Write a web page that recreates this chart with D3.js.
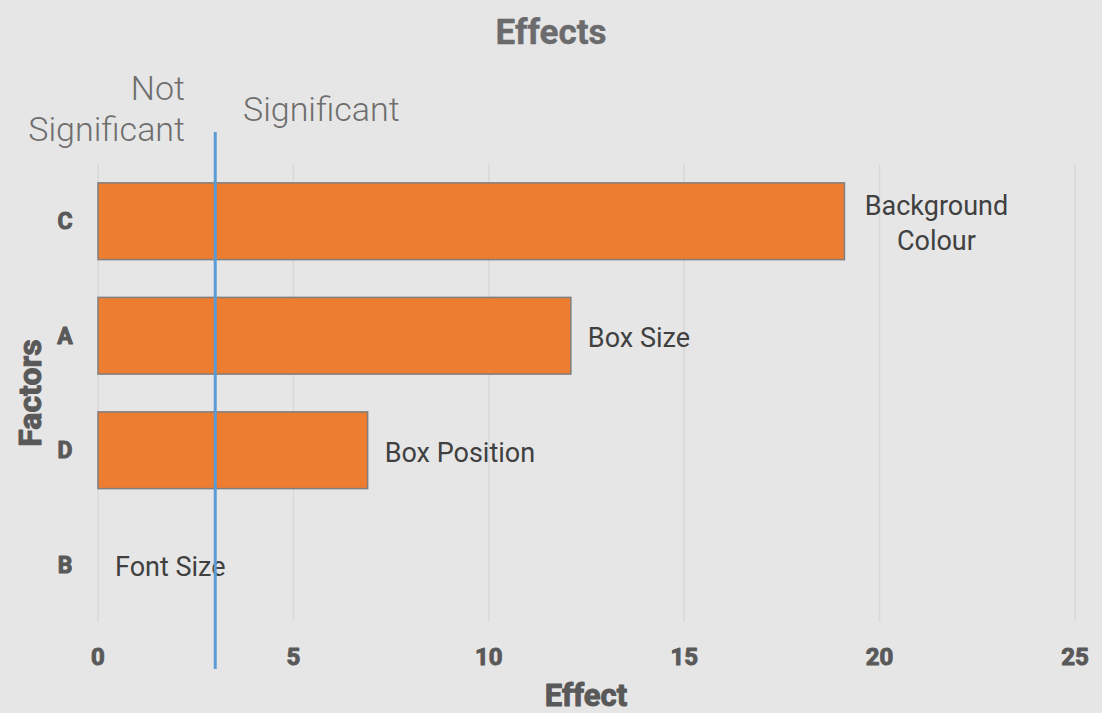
<!DOCTYPE html>
<html>
<head>
<meta charset="utf-8">
<script src="https://cdn.jsdelivr.net/npm/d3@7"></script>
<style>
  body { margin: 0; background: #e6e6e6; }
  svg { display: block; font-family: Roboto, "Noto Sans", sans-serif; }
  .heavy { font-weight: 700; paint-order: stroke; stroke-linejoin: round; }
</style>
</head>
<body>
<div id="chart"></div>
<script>
var factors = ["C", "A", "D", "B"];
var effects = [19.1, 12.1, 6.9, 0];
var barLabels = [["Background", "Colour"], ["Box Size"], ["Box Position"], ["Font Size"]];
var xTicks = [0, 5, 10, 15, 20, 25];
var threshold = 3;

var width = 1102, height = 713;
var margin = { top: 164, right: 27, bottom: 91, left: 98 };
var textGray = "#595959";

var svg = d3.select("#chart").append("svg")
    .attr("width", width)
    .attr("height", height);

svg.append("rect").attr("width", width).attr("height", height).attr("fill", "#e6e6e6");

var x = d3.scaleLinear().domain([0, 25]).range([margin.left, width - margin.right]);
var y = d3.scaleBand().domain(factors).range([margin.top, height - margin.bottom]).paddingInner(0.33).paddingOuter(0.165);

// gridlines
svg.append("g")
    .selectAll("line")
    .data(xTicks)
    .join("line")
    .attr("x1", d => x(d)).attr("x2", d => x(d))
    .attr("y1", margin.top).attr("y2", height - margin.bottom)
    .attr("stroke", "#d9d9d9")
    .attr("stroke-width", 1.5);

// x tick labels
svg.append("g")
    .selectAll("text")
    .data(xTicks)
    .join("text")
    .attr("class", "heavy")
    .attr("x", d => x(d))
    .attr("y", 665)
    .attr("text-anchor", "middle")
    .style("font-size", "24px")
    .attr("fill", textGray)
    .attr("stroke", textGray)
    .attr("stroke-width", 1)
    .text(d => d);

// category labels
svg.append("g")
    .selectAll("text")
    .data(factors)
    .join("text")
    .attr("class", "heavy")
    .attr("x", 65)
    .attr("y", d => y(d) + y.bandwidth() / 2 + 8)
    .attr("text-anchor", "middle")
    .style("font-size", "23px")
    .attr("fill", textGray)
    .attr("stroke", textGray)
    .attr("stroke-width", 1)
    .text(d => d);

var rows = factors.map((f, i) => ({ factor: f, value: effects[i], label: barLabels[i] }));

// bars
svg.append("g")
    .selectAll("rect")
    .data(rows.filter(d => d.value > 0))
    .join("rect")
    .attr("x", x(0))
    .attr("y", d => y(d.factor))
    .attr("width", d => x(d.value) - x(0))
    .attr("height", y.bandwidth())
    .attr("fill", "#ed7d31")
    .attr("stroke", "#7f7f7f")
    .attr("stroke-width", 1.5);

// data labels
function labelX(d) {
    return d.label.length > 1 ? x(d.value) + 92 : x(d.value) + 17;
}
var lbl = svg.append("g")
    .selectAll("text")
    .data(rows)
    .join("text")
    .attr("text-anchor", d => d.label.length > 1 ? "middle" : "start")
    .attr("y", d => y(d.factor) + y.bandwidth() / 2 + 11.5 - (d.label.length - 1) * 17.5)
    .style("font-size", "27px")
    .attr("fill", "#404040");
lbl.selectAll("tspan")
    .data(d => d.label.map((t, i) => ({ t, i, x: labelX(d) })))
    .join("tspan")
    .attr("x", d => d.x)
    .attr("dy", d => d.i === 0 ? 0 : 35)
    .text(d => d.t);

// threshold line
svg.append("line")
    .attr("x1", x(threshold)).attr("x2", x(threshold))
    .attr("y1", 132).attr("y2", 669)
    .attr("stroke", "#5b9bd5")
    .attr("stroke-width", 3);

// significance annotations
var ann = svg.append("g")
    .style("font-size", "34px")
    .style("font-weight", 300)
    .attr("fill", "#6e6e6e");
ann.append("text").attr("x", 185).attr("y", 100).attr("text-anchor", "end").text("Not");
ann.append("text").attr("x", 185).attr("y", 141).attr("text-anchor", "end").text("Significant");
ann.append("text").attr("x", 243).attr("y", 121).text("Significant");

// title
svg.append("text")
    .attr("class", "heavy")
    .attr("x", width / 2)
    .attr("y", 44)
    .attr("text-anchor", "middle")
    .style("font-size", "35px")
    .attr("fill", "#6b6b6e")
    .attr("stroke", "#6b6b6e")
    .attr("stroke-width", 0.4)
    .text("Effects");

// axis titles
svg.append("text")
    .attr("class", "heavy")
    .attr("x", 586)
    .attr("y", 706)
    .attr("text-anchor", "middle")
    .style("font-size", "31px")
    .attr("fill", textGray)
    .attr("stroke", textGray)
    .attr("stroke-width", 1)
    .text("Effect");

svg.append("text")
    .attr("class", "heavy")
    .attr("transform", "translate(41," + 393 + ") rotate(-90)")
    .attr("text-anchor", "middle")
    .style("font-size", "32px")
    .attr("fill", textGray)
    .attr("stroke", textGray)
    .attr("stroke-width", 1)
    .text("Factors");
</script>
</body>
</html>
